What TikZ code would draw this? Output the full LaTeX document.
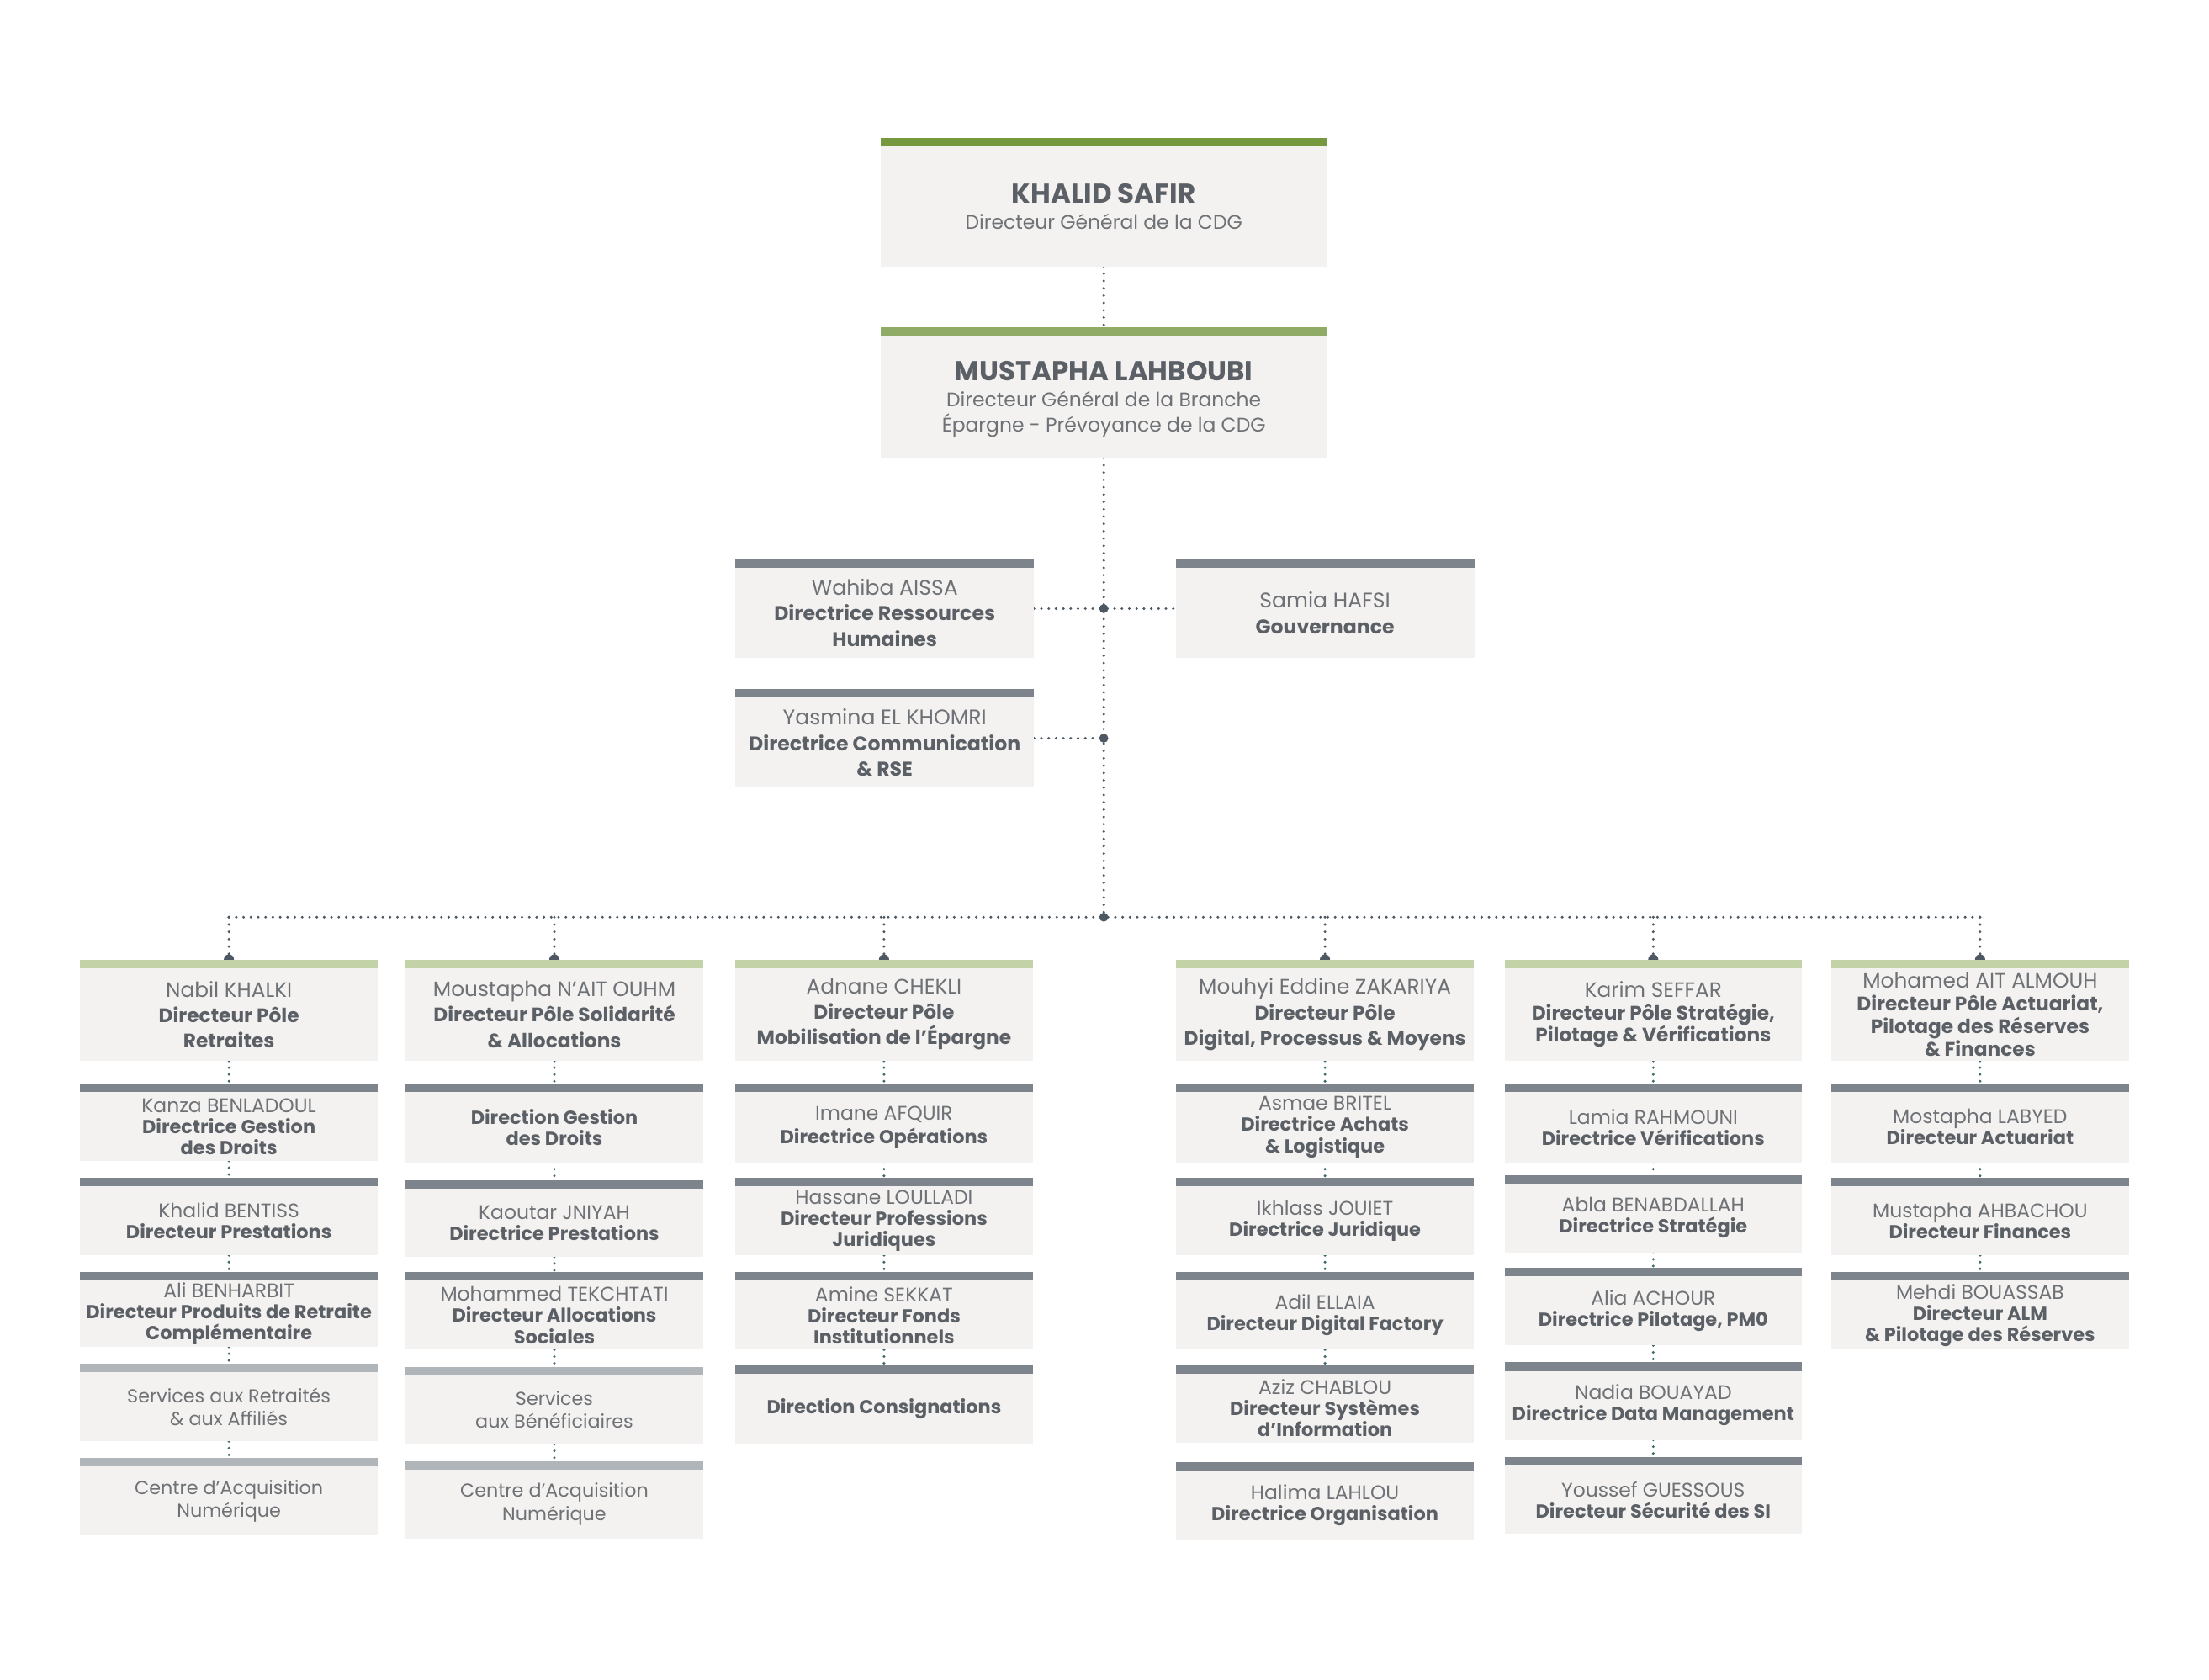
\documentclass[tikz,border=0pt]{standalone}
\usepackage{fontspec}
\setmainfont{Poppins}
\usetikzlibrary{calc}
\definecolor{boxfill}{HTML}{F4F2F0}
\definecolor{greenA}{HTML}{76983F}
\definecolor{greenB}{HTML}{8FAB65}
\definecolor{greenC}{HTML}{C4D3A7}
\definecolor{barD}{HTML}{7D848B}
\definecolor{barL}{HTML}{B0B5BA}
\definecolor{dotc}{HTML}{4D5863}
\definecolor{tealc}{HTML}{3E6A6B}
\definecolor{namegray}{HTML}{6E7276}
\definecolor{titlegray}{HTML}{5B6066}
\pgfdeclarelayer{bg}
\pgfsetlayers{bg,main}
\newcommand\subfont{\fontsize{7.0}{7.5}\selectfont\def\tbfont{\fontsize{6.7}{7.5}\selectfont}}
\newcommand\lightfont{\fontsize{6.65}{8.2}\selectfont}
\newcommand\hdrfont{\fontsize{7.4}{9}\selectfont\def\tbfont{\fontsize{6.95}{9}\selectfont}}
\newcommand\hdrfontb{\fontsize{7.4}{8}\selectfont\def\tbfont{\fontsize{6.95}{8}\selectfont}}
\newcommand\stafffont{\fontsize{7.5}{9}\selectfont\def\tbfont{\fontsize{7.05}{9}\selectfont}}
\newcommand\topfont{\fontsize{7}{9.2}\selectfont}
\newcommand\tbfont{}
\newcommand\apos{{\char39}}
\newcommand\tb[1]{{\color{titlegray}\bfseries\tbfont #1}}
\newcommand\bigname[1]{{\color{titlegray}\fontsize{9.7}{9.5}\selectfont\bfseries #1}}
\tikzset{
  x=0.5pt, y=-0.5pt,
  obox/.style={rectangle, fill=boxfill, inner sep=0pt, outer sep=0pt,
    minimum width=105.5pt, align=center, text=namegray, font=\subfont},
  hdr/.style={font=\hdrfont},
  hdrb/.style={font=\hdrfontb},
  lightbox/.style={font=\lightfont},
  staffbox/.style={minimum width=106pt, font=\stafffont},
  topbox/.style={minimum width=158.5pt, font=\topfont},
  conn/.style={draw=dotc, line width=1pt, line cap=round, dash pattern=on 0pt off 2.6pt},
  sconn/.style={conn, draw=tealc, line width=1pt, dash pattern=on 0pt off 2.4pt},
}
% #1 opts, #2 name, #3 cx, #4 bar top, #5 bottom, #6 bar colour, #7 text
\newcommand\orgbox[7][]{%
  \node[obox,#1,minimum height={(#5-#4-6)*0.5pt}] (#2) at (#3,{(#4+6+#5)/2}) {#7};
  \fill[#6] ([yshift=3pt]#2.north west) rectangle (#2.north east);
}
\begin{document}
\begin{tikzpicture}
\useasboundingbox (0,0) rectangle (1568,1192);
% top
\orgbox[topbox]{k}{783.5}{98}{189}{greenA}{\bigname{KHALID SAFIR}\\Directeur Général de la CDG}
\orgbox[topbox,text depth=-2pt]{m}{783.5}{232}{325}{greenB}{\bigname{MUSTAPHA LAHBOUBI}\\Directeur Général de la Branche\\Épargne - Prévoyance de la CDG}
% staff
\orgbox[staffbox]{w}{628}{397}{467}{barD}{Wahiba AISSA\\\tb{Directrice Ressources}\\\tb{Humaines}}
\orgbox[staffbox]{s}{940.5}{397}{467}{barD}{Samia HAFSI\\\tb{Gouvernance}}
\orgbox[staffbox]{y}{628}{489}{559}{barD}{Yasmina EL KHOMRI\\\tb{Directrice Communication}\\\tb{\& RSE}}
% column 1
\orgbox[hdr]{h1}{162.5}{681}{753}{greenC}{Nabil KHALKI\\\tb{Directeur Pôle}\\\tb{Retraites}}
\orgbox{a1}{162.5}{769}{824}{barD}{Kanza BENLADOUL\\\tb{Directrice Gestion}\\\tb{des Droits}}
\orgbox{a2}{162.5}{836}{891}{barD}{Khalid BENTISS\\\tb{Directeur Prestations}}
\orgbox{a3}{162.5}{903}{956}{barD}{Ali BENHARBIT\\\tb{Directeur Produits de Retraite}\\\tb{Complémentaire}}
\orgbox[lightbox]{a4}{162.5}{968}{1023}{barL}{Services aux Retraités\\\& aux Affiliés}
\orgbox[lightbox]{a5}{162.5}{1035}{1090}{barL}{Centre d’Acquisition\\Numérique}
% column 2
\orgbox[hdr]{h2}{393.5}{681}{753}{greenC}{Moustapha N\apos AIT OUHM\\\tb{Directeur Pôle Solidarité}\\\tb{\& Allocations}}
\orgbox{b1}{393.5}{769}{825}{barD}{\tb{Direction Gestion}\\\tb{des Droits}}
\orgbox{b2}{393.5}{838}{892}{barD}{Kaoutar JNIYAH\\\tb{Directrice Prestations}}
\orgbox{b3}{393.5}{903}{958}{barD}{Mohammed TEKCHTATI\\\tb{Directeur Allocations}\\\tb{Sociales}}
\orgbox[lightbox]{b4}{393.5}{970}{1025}{barL}{Services\\aux Bénéficiaires}
\orgbox[lightbox]{b5}{393.5}{1037}{1092}{barL}{Centre d’Acquisition\\Numérique}
% column 3
\orgbox[hdr]{h3}{627.5}{681}{753}{greenC}{Adnane CHEKLI\\\tb{Directeur Pôle}\\\tb{Mobilisation de l’Épargne}}
\orgbox[font=\fontsize{7.0}{8.4}\selectfont\def\tbfont{\fontsize{6.7}{8.4}\selectfont}]{c1}{627.5}{769}{825}{barD}{Imane AFQUIR\\\tb{Directrice Opérations}}
\orgbox{c2}{627.5}{836}{891}{barD}{Hassane LOULLADI\\\tb{Directeur Professions}\\\tb{Juridiques}}
\orgbox{c3}{627.5}{903}{958}{barD}{Amine SEKKAT\\\tb{Directeur Fonds}\\\tb{Institutionnels}}
\orgbox{c4}{627.5}{969}{1025}{barD}{\tb{Direction Consignations}}
% column 4
\orgbox[hdr]{h4}{940.5}{681}{753}{greenC}{Mouhyi Eddine ZAKARIYA\\\tb{Directeur Pôle}\\\tb{Digital, Processus \& Moyens}}
\orgbox{d1}{940.5}{769}{825}{barD}{Asmae BRITEL\\\tb{Directrice Achats}\\\tb{\& Logistique}}
\orgbox{d2}{940.5}{836}{891}{barD}{Ikhlass JOUIET\\\tb{Directrice Juridique}}
\orgbox{d3}{940.5}{903}{958}{barD}{Adil ELLAIA\\\tb{Directeur Digital Factory}}
\orgbox{d4}{940.5}{969}{1024}{barD}{Aziz CHABLOU\\\tb{Directeur Systèmes}\\\tb{d\apos Information}}
\orgbox{d5}{940.5}{1038}{1093}{barD}{Halima LAHLOU\\\tb{Directrice Organisation}}
% column 5
\orgbox[hdrb]{h5}{1173.5}{681}{753}{greenC}{Karim SEFFAR\\\tb{Directeur Pôle Stratégie,}\\\tb{Pilotage \& Vérifications}}
\orgbox{e1}{1173.5}{769}{825}{barD}{Lamia RAHMOUNI\\\tb{Directrice Vérifications}}
\orgbox{e2}{1173.5}{834}{889}{barD}{Abla BENABDALLAH\\\tb{Directrice Stratégie}}
\orgbox{e3}{1173.5}{900}{955}{barD}{Alia ACHOUR\\\tb{Directrice Pilotage, PM0}}
\orgbox{e4}{1173.5}{967}{1022}{barD}{Nadia BOUAYAD\\\tb{Directrice Data Management}}
\orgbox{e5}{1173.5}{1034}{1089}{barD}{Youssef GUESSOUS\\\tb{Directeur Sécurité des SI}}
% column 6
\orgbox[hdrb]{h6}{1405.5}{681}{753}{greenC}{Mohamed AIT ALMOUH\\\tb{Directeur Pôle Actuariat,}\\\tb{Pilotage des Réserves}\\\tb{\& Finances}}
\orgbox{f1}{1405.5}{769}{825}{barD}{Mostapha LABYED\\\tb{Directeur Actuariat}}
\orgbox{f2}{1405.5}{836}{891}{barD}{Mustapha AHBACHOU\\\tb{Directeur Finances}}
\orgbox{f3}{1405.5}{903}{958}{barD}{Mehdi BOUASSAB\\\tb{Directeur ALM}\\\tb{\& Pilotage des Réserves}}
% connectors
\coordinate (j1) at (783.5,432);
\coordinate (j2) at (783.5,524);
\coordinate (hb) at (783.5,651);
\begin{pgfonlayer}{bg}
  \draw[conn] (k.south) -- ([yshift=3pt]m.north);
  \draw[conn] (m.south) -- (hb);
  \draw[conn] (w.east |- j1) -- (s.west |- j1);
  \draw[conn] (y.east |- j2) -- (j2);
  \draw[conn] (h1.north |- hb) -- (h6.north |- hb);
  \foreach \h in {h1,h2,h3,h4,h5,h6}{
    \draw[conn] (\h.north |- hb) -- ([yshift=3pt]\h.north);
    \fill[dotc] ([yshift=3pt]\h.north) circle[radius=1.8pt];
  }
  \foreach \p/\q in {h1/a1,a1/a2,a2/a3,a3/a4,a4/a5,
                     h2/b1,b1/b2,b2/b3,b3/b4,b4/b5,
                     h3/c1,c1/c2,c2/c3,c3/c4,
                     h4/d1,d1/d2,d2/d3,d3/d4,
                     h5/e1,e1/e2,e2/e3,e3/e4,e4/e5,
                     h6/f1,f1/f2,f2/f3}{
    \draw[sconn] (\p.south) -- ([yshift=3pt]\q.north);
  }
\end{pgfonlayer}
\fill[dotc] (j1) circle[radius=1.6pt];
\fill[dotc] (j2) circle[radius=1.6pt];
\fill[dotc] (hb) circle[radius=1.6pt];
\end{tikzpicture}
\end{document}
